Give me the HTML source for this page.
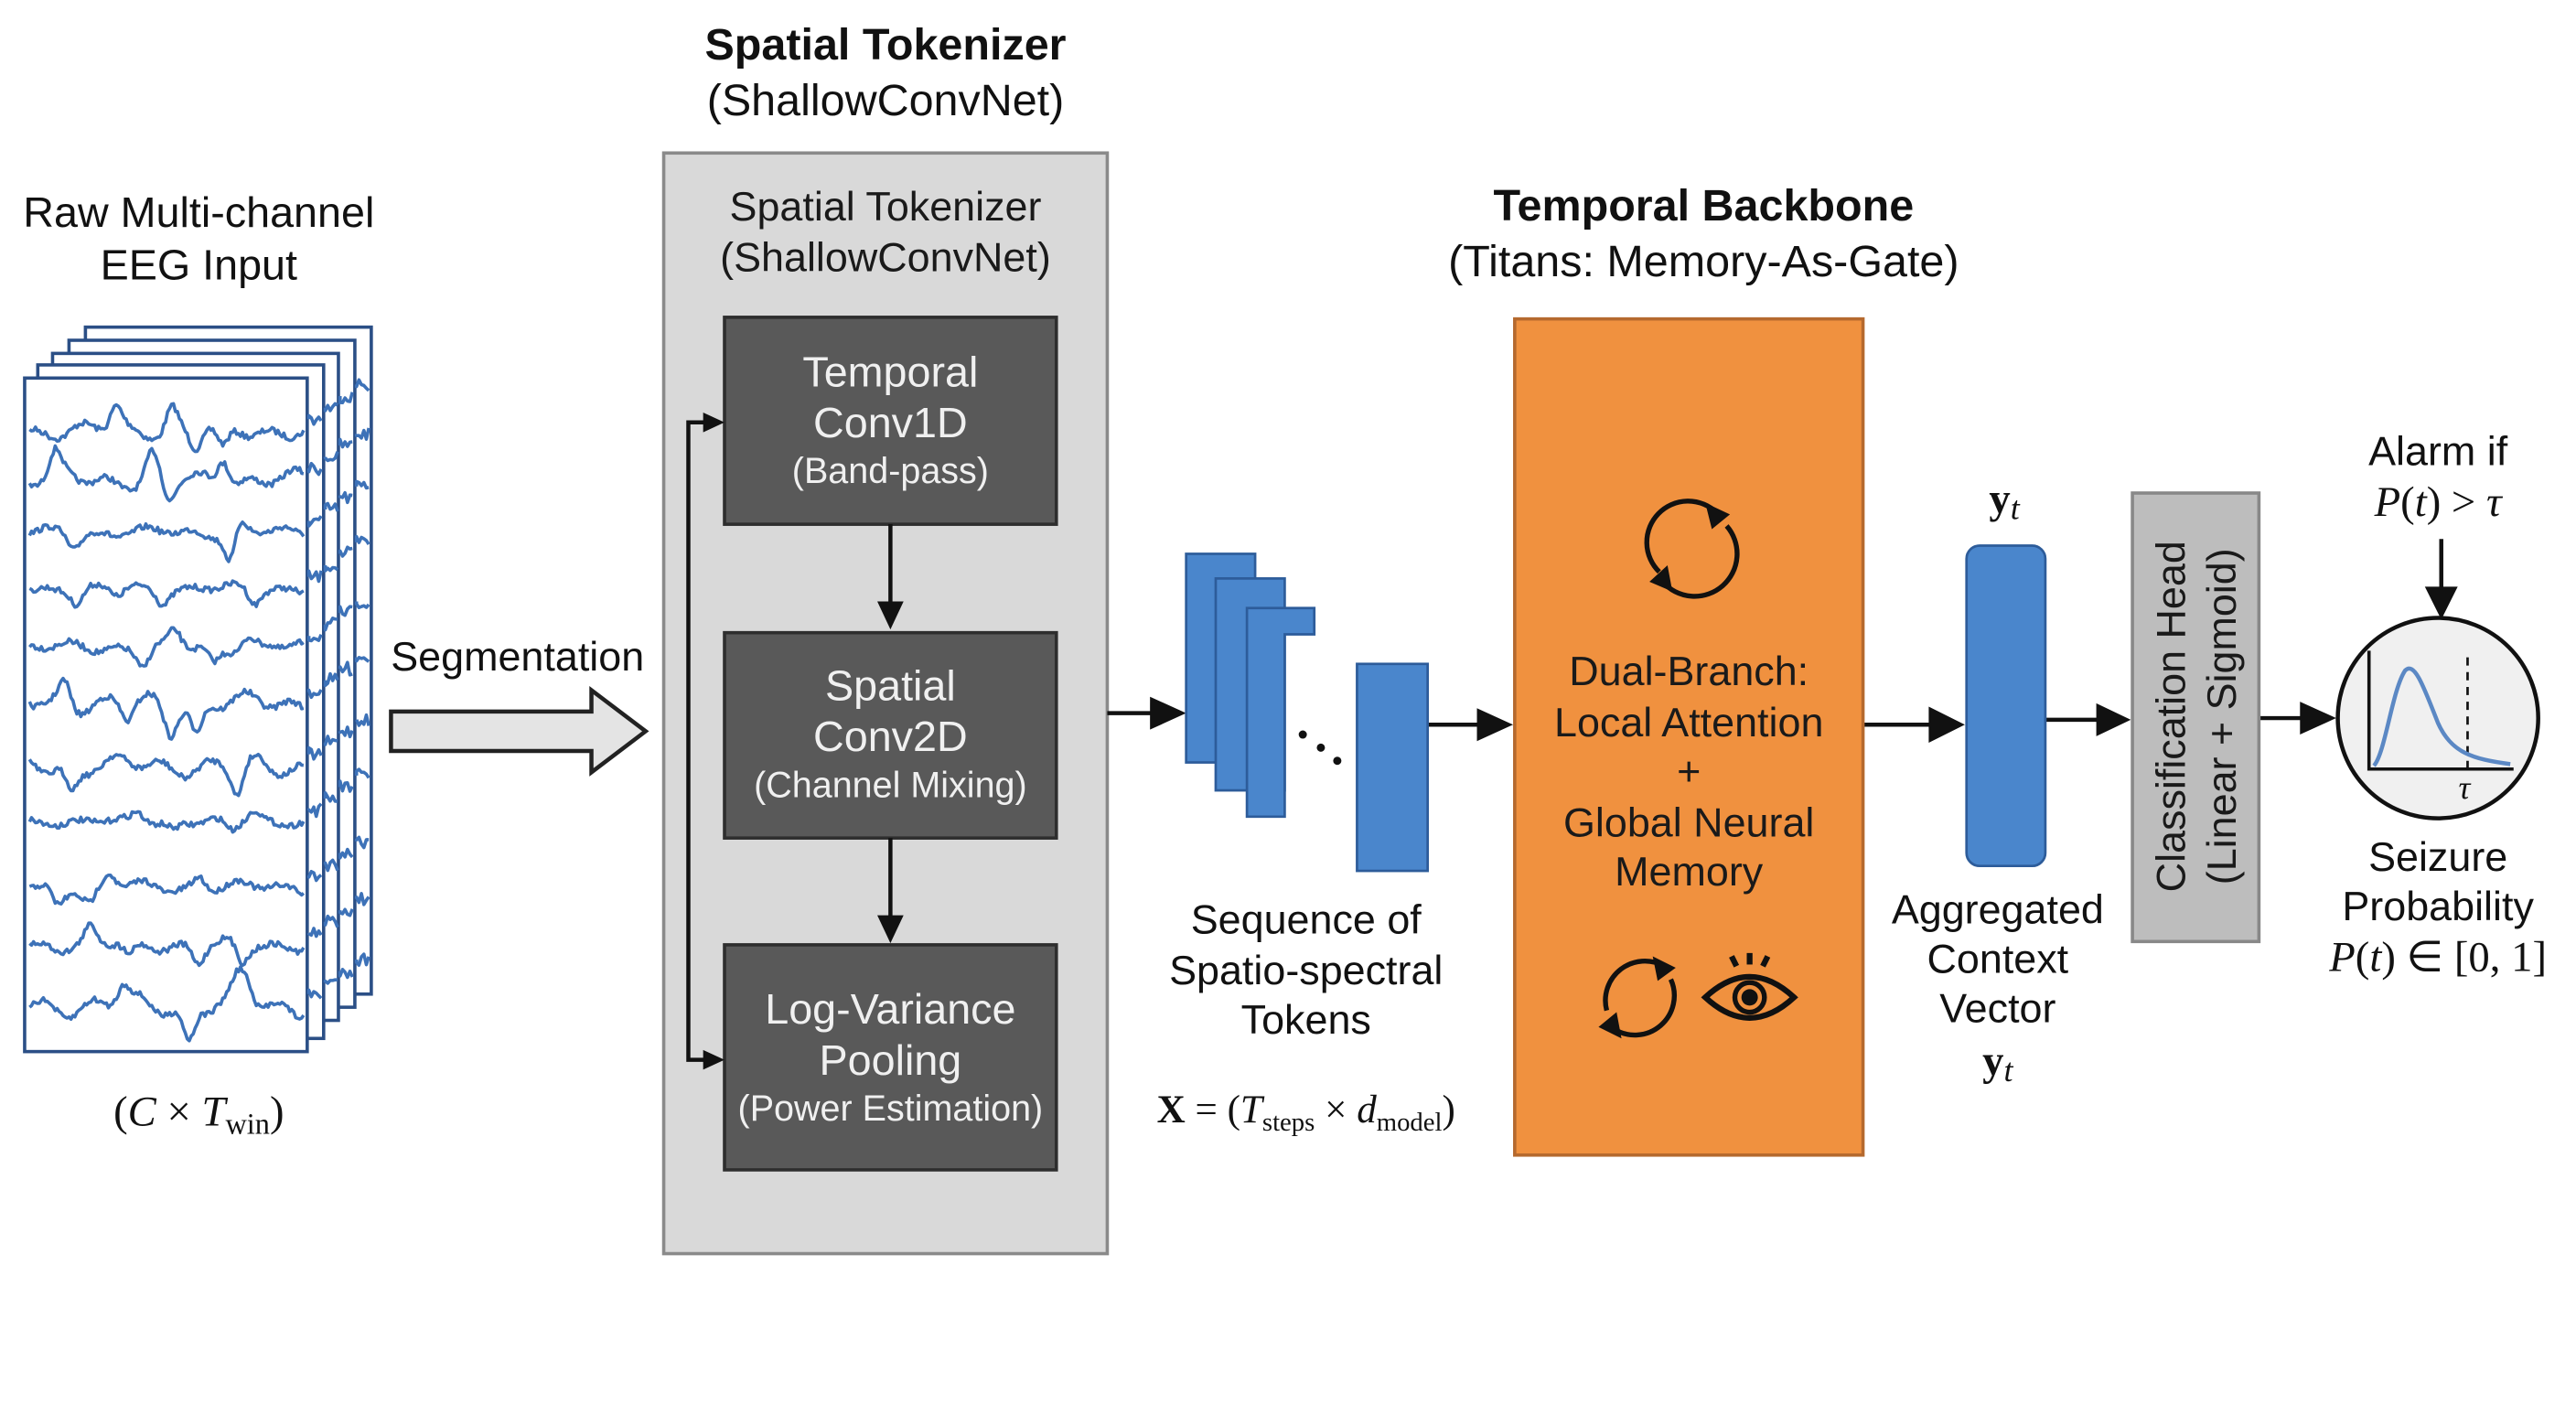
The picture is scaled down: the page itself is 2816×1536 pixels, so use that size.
<!DOCTYPE html>
<html><head><meta charset="utf-8">
<style>
html,body{margin:0;padding:0;background:#fff;}
svg{display:block;}
text{font-family:"Liberation Sans",sans-serif;}
.s{font-family:"Liberation Serif",serif;}
</style></head>
<body>
<svg id="m" width="2816" height="1536" viewBox="0 0 1568 855" xmlns="http://www.w3.org/2000/svg">
<rect width="1568" height="855" fill="#fff"/>

<text x="121" y="138" font-size="26" text-anchor="middle" fill="#111">Raw Multi-channel</text>
<text x="121" y="170" font-size="26" text-anchor="middle" fill="#111">EEG Input</text>

<g id="eeg" fill="#fff" stroke="#2b4f86" stroke-width="2">
<rect x="52" y="199" width="174" height="406"/>
<rect x="42" y="207" width="174" height="406"/>
<rect x="32" y="215" width="174" height="406"/>
<rect x="23" y="222" width="174" height="410"/>
<rect x="15" y="230" width="172" height="410"/>
</g>
<g id="waves" fill="none" stroke="#3d72b8" stroke-width="2" stroke-linejoin="round"></g>

<text x="121" y="685" font-size="26" text-anchor="middle" class="s" fill="#111">(<tspan font-style="italic">C</tspan> × <tspan font-style="italic">T</tspan><tspan font-size="18" dy="5">win</tspan><tspan dy="-5">)</tspan></text>

<text x="315" y="408" font-size="25" text-anchor="middle" fill="#111">Segmentation</text>
<path d="M238,433 L360,433 L360,420 L393,445 L360,470 L360,457 L238,457 Z" fill="#e4e4e4" stroke="#222" stroke-width="2.5"/>

<text x="539" y="36" font-size="27" font-weight="bold" text-anchor="middle" fill="#111">Spatial Tokenizer</text>
<text x="539" y="70" font-size="27" text-anchor="middle" fill="#111">(ShallowConvNet)</text>
<rect x="404" y="93" width="270" height="670" fill="#d9d9d9" stroke="#8a8a8a" stroke-width="2"/>
<text x="539" y="134" font-size="25" text-anchor="middle" fill="#1a1a1a">Spatial Tokenizer</text>
<text x="539" y="165" font-size="25" text-anchor="middle" fill="#1a1a1a">(ShallowConvNet)</text>

<g fill="#595959" stroke="#2e2e2e" stroke-width="2">
<rect x="441" y="193" width="202" height="126"/>
<rect x="441" y="385" width="202" height="125"/>
<rect x="441" y="575" width="202" height="137"/>
</g>
<g fill="#f0f0f0" text-anchor="middle">
<text x="542" y="235" font-size="26">Temporal</text>
<text x="542" y="266" font-size="26">Conv1D</text>
<text x="542" y="294" font-size="22">(Band-pass)</text>
<text x="542" y="426" font-size="26">Spatial</text>
<text x="542" y="457" font-size="26">Conv2D</text>
<text x="542" y="485" font-size="22">(Channel Mixing)</text>
<text x="542" y="623" font-size="26">Log-Variance</text>
<text x="542" y="654" font-size="26">Pooling</text>
<text x="542" y="682" font-size="22">(Power Estimation)</text>
</g>

<g stroke="#111" stroke-width="2.5" fill="none">
<line x1="542" y1="319" x2="542" y2="370"/>
<line x1="542" y1="510" x2="542" y2="560"/>
<polyline points="431,257 419,257 419,645 431,645"/>
<line x1="674" y1="434" x2="705" y2="434"/>
<line x1="869" y1="441" x2="904" y2="441"/>
<line x1="1134" y1="441" x2="1180" y2="441"/>
<line x1="1245" y1="438" x2="1281" y2="438"/>
<line x1="1375" y1="437" x2="1406" y2="437"/>
<line x1="1486" y1="328" x2="1486" y2="362"/>
</g>
<g fill="#111">
<polygon points="534,366 550,366 542,383"/>
<polygon points="534,557 550,557 542,574"/>
<polygon points="428,251 441,257 428,263"/>
<polygon points="428,639 441,645 428,651"/>
<polygon points="700,424 722,434 700,444"/>
<polygon points="899,431 921,441 899,451"/>
<polygon points="1174,430 1196,441 1174,452"/>
<polygon points="1276,428 1297,438 1276,448"/>
<polygon points="1400,427 1422,437 1400,447"/>
<polygon points="1476,357 1496,357 1486,377"/>
</g>

<g fill="#4a86cc" stroke="#2d5c9a" stroke-width="1.5">
<rect x="722" y="337" width="42" height="127"/>
<rect x="740" y="352" width="42" height="129"/>
<path d="M759,370 L800,370 L800,386 L782,386 L782,497 L759,497 Z"/>
<rect x="826" y="404" width="43" height="126"/>
</g>
<g fill="#111"><circle cx="793" cy="447" r="2.5"/><circle cx="804" cy="455" r="2.5"/><circle cx="814" cy="463" r="2.5"/></g>
<g font-size="25" text-anchor="middle" fill="#111">
<text x="795" y="568">Sequence of</text>
<text x="795" y="599">Spatio-spectral</text>
<text x="795" y="629">Tokens</text>
</g>
<text x="795" y="683" font-size="24" text-anchor="middle" class="s" fill="#111"><tspan font-weight="bold">X</tspan> = (<tspan font-style="italic">T</tspan><tspan font-size="16" dy="5">steps</tspan><tspan dy="-5"> × </tspan><tspan font-style="italic">d</tspan><tspan font-size="16" dy="5">model</tspan><tspan dy="-5">)</tspan></text>

<text x="1037" y="134" font-size="27" font-weight="bold" text-anchor="middle" fill="#111">Temporal Backbone</text>
<text x="1037" y="168" font-size="27" text-anchor="middle" fill="#111">(Titans: Memory-As-Gate)</text>
<rect x="922" y="194" width="212" height="509" fill="#f0913f" stroke="#b5692e" stroke-width="2"/>
<g font-size="25" text-anchor="middle" fill="#1a1a1a">
<text x="1028" y="417">Dual-Branch:</text>
<text x="1028" y="448">Local Attention</text>
<text x="1028" y="478">+</text>
<text x="1028" y="509">Global Neural</text>
<text x="1028" y="539">Memory</text>
</g>
<g fill="none" stroke="#111" stroke-width="3">
<path d="M1010,348 A24,24 0 0 1 1045,312"/>
<path d="M1051,320 A24,24 0 0 1 1012,354"/>
<path d="M978,615 A24,24 0 0 1 1013,588"/>
<path d="M1017,596 A24,24 0 0 1 982,626"/>
</g>
<g fill="#111">
<polygon points="1038,306 1053,313 1042,322"/>
<polygon points="1018,360 1004,354 1015,344"/>
<polygon points="1006,582 1020,589 1009,597"/>
<polygon points="987,632 973,625 984,616"/>
</g>
<g stroke="#111" stroke-width="3.5" fill="none">
<path d="M1038,607 Q1065,582 1092,607 Q1065,632 1038,607 Z"/>
<line x1="1065" y1="580" x2="1065" y2="587"/><line x1="1054" y1="582" x2="1057" y2="588"/><line x1="1076" y1="582" x2="1073" y2="588"/>
</g>
<circle cx="1065" cy="607" r="9" fill="none" stroke="#111" stroke-width="3"/>
<circle cx="1065" cy="607" r="5" fill="#111"/>

<text x="1220" y="312" font-size="26" text-anchor="middle" class="s" fill="#111"><tspan font-weight="bold">y</tspan><tspan font-style="italic" font-size="20" dy="4">t</tspan></text>
<rect x="1197" y="332" width="48" height="195" rx="8" fill="#4a86cc" stroke="#2d5c9a" stroke-width="1.5"/>
<g font-size="25" text-anchor="middle" fill="#111">
<text x="1216" y="562">Aggregated</text>
<text x="1216" y="592">Context</text>
<text x="1216" y="622">Vector</text>
</g>
<text x="1216" y="654" font-size="26" text-anchor="middle" class="s" fill="#111"><tspan font-weight="bold">y</tspan><tspan font-style="italic" font-size="20" dy="4">t</tspan></text>

<rect x="1298" y="300" width="77" height="273" fill="#bdbdbd" stroke="#888" stroke-width="2"/>
<g font-size="25" text-anchor="middle" fill="#1a1a1a">
<text transform="translate(1330,436) rotate(-90)">Classification Head</text>
<text transform="translate(1361,436) rotate(-90)">(Linear + Sigmoid)</text>
</g>

<text x="1484" y="283" font-size="25" text-anchor="middle" fill="#111">Alarm if</text>
<text x="1484" y="314" font-size="26" text-anchor="middle" class="s" font-style="italic" fill="#111">P<tspan font-style="normal">(</tspan>t<tspan font-style="normal">) &gt; </tspan>τ</text>
<circle cx="1484" cy="437" r="61" fill="#f0f0f0" stroke="#111" stroke-width="2.5"/>
<polyline points="1442,396 1442,468 1530,468" fill="none" stroke="#111" stroke-width="2"/>
<line x1="1502" y1="400" x2="1502" y2="468" stroke="#111" stroke-width="1.5" stroke-dasharray="5,4"/>
<path d="M1445,466 C1452,458 1456,420 1464,408 C1470,402 1476,420 1484,440 C1492,458 1505,462 1528,465" fill="none" stroke="#5b88c4" stroke-width="2.5"/>
<text x="1500" y="486" font-size="20" class="s" font-style="italic" text-anchor="middle" fill="#111">τ</text>
<g font-size="25" text-anchor="middle" fill="#111">
<text x="1484" y="530">Seizure</text>
<text x="1484" y="560">Probability</text>
</g>
<text x="1484" y="591" font-size="26" text-anchor="middle" class="s" fill="#111"><tspan font-style="italic">P</tspan>(<tspan font-style="italic">t</tspan>) ∈ [0, 1]</text>
</svg>
<script>
(function(){
var g=document.getElementById('waves');var seed=7;
function r(){seed=(seed*16807)%2147483647;return seed/2147483647;}
var ys=[262,292,324,358,394,428,466,500,540,575,612];
var amps=[9,10,6,5,6,11,11,4,7,7,12];
var ns="http://www.w3.org/2000/svg";
ys.forEach(function(y,i){
  var d="";var ph=r()*6;var ph2=r()*6;var A=amps[i];
  var spikes=[];for(var s=0;s<4;s++){spikes.push([30+r()*140,(r()<0.5?-1:1)*A*(1+r())]);}
  for(var x=18;x<=185;x+=1.2){
    var v=Math.sin(x*0.22+ph)*A*0.35+Math.sin(x*0.09+ph2)*A*0.3+(r()-0.5)*3.5;
    spikes.forEach(function(sp){var dx=(x-sp[0])/5;v+=sp[1]*Math.exp(-dx*dx)*0.9;});
    d+=(x==18?"M":" L")+x.toFixed(1)+","+(y+v).toFixed(1);
  }
  var p=document.createElementNS(ns,'path');p.setAttribute('d',d);g.appendChild(p);
  for(var k=1;k<=4;k++){
    var x0=[0,188,198,207,217][k], x1=x0+8, yy=y-7*k;
    var dd="M"+x0+","+yy;
    for(var x=x0;x<=x1;x+=1.5){dd+=" L"+x.toFixed(1)+","+(yy+(r()-0.5)*8).toFixed(1);}
    var q=document.createElementNS(ns,'path');q.setAttribute('d',dd);g.appendChild(q);
  }
});
})();
</script>
</body></html>
